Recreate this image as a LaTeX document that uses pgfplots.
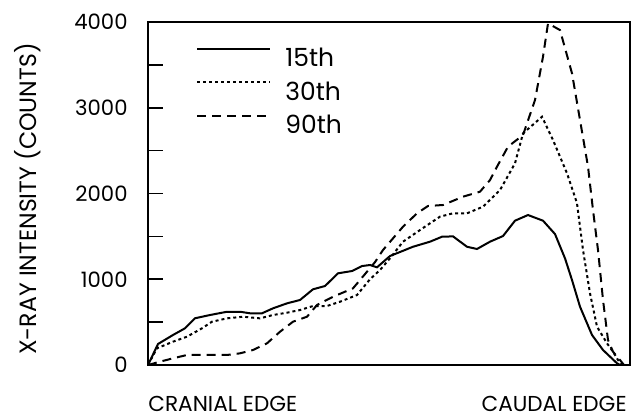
\documentclass[border=0pt]{standalone}
\usepackage{fontspec}
\setmainfont{Poppins}
\usepackage{pgfplots}
\pgfplotsset{compat=1.18}
\begin{document}
\begin{tikzpicture}[x=1pt,y=1pt]
\path[use as bounding box] (0,0) rectangle (315.5,209);
\begin{axis}[
  scale only axis,
  width=241pt, height=171.5pt,
  at={(74pt,26.5pt)}, anchor=south west,
  xmin=148, xmax=630, ymin=0, ymax=4000,
  xtick=\empty,
  ytick={0,1000,2000,3000,4000},
  minor ytick={500,1500,2500,3500},
  ytick pos=left,
  tick align=inside,
  major tick length=7.5pt, minor tick length=7.5pt,
  every tick/.style={black, line width=0.8pt},
  axis line style={line width=0.9pt},
  /pgf/number format/assume math mode=true,
  /pgf/number format/1000 sep={},
  yticklabel style={font=\fontsize{10.6}{12}\selectfont, inner sep=0pt, xshift=-10pt},
  legend cell align=left,
  legend style={at={(axis description cs:0.0996,0.925)}, anchor=north west,
    draw=none, fill=none, inner sep=0pt, row sep=7.25pt, column sep=7pt,
    font=\fontsize{12.5}{14}\selectfont,
    nodes={inner sep=0pt, text height=9pt, text depth=0pt}},
  legend image code/.code={\draw[#1] (0pt,4.4pt) -- (36.5pt,4.4pt);},
]
\addplot[black, line width=1pt] coordinates {
(148,0)(158,245)(173,350)(185,428)(195,545)(210,583)(227,621)(240,621)(250,603)(262,603)
(273,661)(287,719)(300,758)(313,883)(325,921)(338,1069)(352,1096)(362,1154)(370,1166)(377,1139)
(390,1271)(413,1379)(430,1438)(442,1496)(453,1500)(467,1379)(477,1353)(490,1438)(503,1504)(515,1683)
(528,1749)(543,1683)(555,1527)(565,1244)(572,991)(580,680)(592,350)(603,175)(617,20)(620,0)};
\addlegendentry{15th}
\addplot[black, line width=1pt, dash pattern=on 1.5pt off 1.5pt] coordinates {
(148,0)(157,195)(173,272)(187,330)(202,428)(212,505)(227,544)(243,563)(260,544)(273,583)
(287,610)(300,641)(313,688)(327,688)(340,738)(357,816)(370,1000)(380,1108)(390,1244)(403,1438)
(420,1574)(440,1730)(453,1769)(467,1769)(483,1846)(500,2040)(515,2352)(523,2701)(542,2895)(553,2624)
(567,2235)(577,1885)(583,1341)(590,836)(597,447)(607,253)(613,155)(618,58)(622,0)};
\addlegendentry{30th}
\addplot[black, line width=1pt, dash pattern=on 4.5pt off 3pt] coordinates {
(148,0)(160,39)(173,78)(187,117)(207,117)(227,117)(240,136)(253,175)(267,253)(280,388)
(293,505)(307,563)(317,700)(333,796)(353,894)(367,1088)(375,1200)(383,1341)(403,1613)(417,1769)
(428,1854)(443,1866)(463,1963)(480,2021)(490,2157)(497,2313)(508,2546)(523,2682)(535,3090)(543,3595)
(548,3984)(560,3906)(572,3401)(580,2857)(588,2313)(593,1807)(598,1341)(603,758)(608,292)(613,155)
(620,58)(624,0)};
\addlegendentry{90th}
\end{axis}
\node[rotate=90, font=\fontsize{11.8}{13}\selectfont] at (14,109.5) {X-RAY INTENSITY (COUNTS)};
\node[anchor=base west, inner sep=0pt, font=\fontsize{10.8}{13}\selectfont] at (74,3.2) {CRANIAL EDGE};
\node[anchor=base east, inner sep=0pt, font=\fontsize{10.8}{13}\selectfont] at (313.5,3.2) {CAUDAL EDGE};
\end{tikzpicture}
\end{document}
